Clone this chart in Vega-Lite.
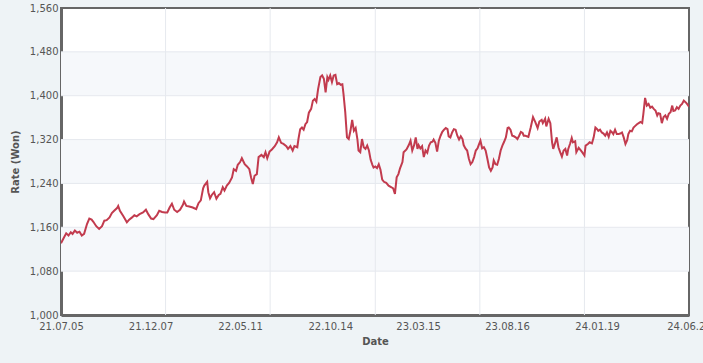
{
  "$schema": "https://vega.github.io/schema/vega-lite/v6.json",
  "autosize": {"type": "none"},
  "width": 628,
  "height": 307,
  "padding": {"left": 61, "top": 8, "right": 14, "bottom": 48},
  "background": "#eef3f6",
  "config": {
    "font": "DejaVu Sans",
    "view": {"fill": "#ffffff", "stroke": "#666666", "strokeWidth": 2}
  },
  "datasets": {
    "bands": [{"lo": 1080, "hi": 1160}, {"lo": 1240, "hi": 1320}, {"lo": 1400, "hi": 1480}],
    "hgrid": [{"v": 1080}, {"v": 1160}, {"v": 1240}, {"v": 1320}, {"v": 1400}, {"v": 1480}],
    "vgrid": [{"d": "2022-01-02"}, {"d": "2022-07-02"}, {"d": "2022-12-31"}, {"d": "2023-06-30"}, {"d": "2023-12-28"}],
    "rates": [
      {"date": "2021-07-05", "rate": 1131}, {"date": "2021-07-09", "rate": 1139}, {"date": "2021-07-14", "rate": 1149}, {"date": "2021-07-18", "rate": 1145},
      {"date": "2021-07-22", "rate": 1151}, {"date": "2021-07-25", "rate": 1148}, {"date": "2021-07-29", "rate": 1154}, {"date": "2021-08-02", "rate": 1150},
      {"date": "2021-08-06", "rate": 1152}, {"date": "2021-08-10", "rate": 1145}, {"date": "2021-08-14", "rate": 1148}, {"date": "2021-08-19", "rate": 1166},
      {"date": "2021-08-23", "rate": 1176}, {"date": "2021-08-27", "rate": 1174}, {"date": "2021-08-30", "rate": 1170}, {"date": "2021-09-04", "rate": 1162},
      {"date": "2021-09-09", "rate": 1157}, {"date": "2021-09-14", "rate": 1162}, {"date": "2021-09-18", "rate": 1172}, {"date": "2021-09-22", "rate": 1173},
      {"date": "2021-09-27", "rate": 1178}, {"date": "2021-10-01", "rate": 1186}, {"date": "2021-10-05", "rate": 1190}, {"date": "2021-10-10", "rate": 1195},
      {"date": "2021-10-12", "rate": 1199}, {"date": "2021-10-15", "rate": 1190}, {"date": "2021-10-21", "rate": 1180}, {"date": "2021-10-27", "rate": 1169},
      {"date": "2021-10-31", "rate": 1174}, {"date": "2021-11-05", "rate": 1178}, {"date": "2021-11-09", "rate": 1182}, {"date": "2021-11-13", "rate": 1180},
      {"date": "2021-11-18", "rate": 1184}, {"date": "2021-11-24", "rate": 1187}, {"date": "2021-11-29", "rate": 1192}, {"date": "2021-12-03", "rate": 1184},
      {"date": "2021-12-08", "rate": 1176}, {"date": "2021-12-12", "rate": 1175}, {"date": "2021-12-18", "rate": 1182}, {"date": "2021-12-22", "rate": 1190},
      {"date": "2021-12-27", "rate": 1188}, {"date": "2022-01-01", "rate": 1187}, {"date": "2022-01-05", "rate": 1187}, {"date": "2022-01-09", "rate": 1196},
      {"date": "2022-01-13", "rate": 1203}, {"date": "2022-01-17", "rate": 1192}, {"date": "2022-01-22", "rate": 1188}, {"date": "2022-01-27", "rate": 1192},
      {"date": "2022-02-01", "rate": 1201}, {"date": "2022-02-03", "rate": 1207}, {"date": "2022-02-07", "rate": 1199}, {"date": "2022-02-12", "rate": 1198},
      {"date": "2022-02-18", "rate": 1196}, {"date": "2022-02-24", "rate": 1193}, {"date": "2022-02-28", "rate": 1204}, {"date": "2022-03-04", "rate": 1209},
      {"date": "2022-03-08", "rate": 1231}, {"date": "2022-03-10", "rate": 1236}, {"date": "2022-03-15", "rate": 1243}, {"date": "2022-03-17", "rate": 1224},
      {"date": "2022-03-20", "rate": 1213}, {"date": "2022-03-23", "rate": 1219}, {"date": "2022-03-27", "rate": 1224}, {"date": "2022-03-31", "rate": 1212},
      {"date": "2022-04-04", "rate": 1219}, {"date": "2022-04-07", "rate": 1221}, {"date": "2022-04-11", "rate": 1233}, {"date": "2022-04-14", "rate": 1227},
      {"date": "2022-04-18", "rate": 1236}, {"date": "2022-04-22", "rate": 1241}, {"date": "2022-04-27", "rate": 1251}, {"date": "2022-04-30", "rate": 1266},
      {"date": "2022-05-04", "rate": 1263}, {"date": "2022-05-07", "rate": 1274}, {"date": "2022-05-11", "rate": 1279}, {"date": "2022-05-14", "rate": 1286},
      {"date": "2022-05-19", "rate": 1275}, {"date": "2022-05-23", "rate": 1271}, {"date": "2022-05-27", "rate": 1266}, {"date": "2022-05-30", "rate": 1251},
      {"date": "2022-06-02", "rate": 1239}, {"date": "2022-06-05", "rate": 1254}, {"date": "2022-06-09", "rate": 1257}, {"date": "2022-06-12", "rate": 1288},
      {"date": "2022-06-17", "rate": 1292}, {"date": "2022-06-21", "rate": 1288}, {"date": "2022-06-24", "rate": 1297}, {"date": "2022-06-27", "rate": 1286},
      {"date": "2022-07-01", "rate": 1298}, {"date": "2022-07-05", "rate": 1302}, {"date": "2022-07-10", "rate": 1308}, {"date": "2022-07-14", "rate": 1315},
      {"date": "2022-07-17", "rate": 1324}, {"date": "2022-07-21", "rate": 1314}, {"date": "2022-07-25", "rate": 1312}, {"date": "2022-07-30", "rate": 1308},
      {"date": "2022-08-02", "rate": 1303}, {"date": "2022-08-06", "rate": 1308}, {"date": "2022-08-10", "rate": 1300}, {"date": "2022-08-13", "rate": 1308},
      {"date": "2022-08-18", "rate": 1306}, {"date": "2022-08-20", "rate": 1321}, {"date": "2022-08-23", "rate": 1339}, {"date": "2022-08-26", "rate": 1342},
      {"date": "2022-08-29", "rate": 1338}, {"date": "2022-09-01", "rate": 1348}, {"date": "2022-09-04", "rate": 1352}, {"date": "2022-09-07", "rate": 1369},
      {"date": "2022-09-11", "rate": 1376}, {"date": "2022-09-14", "rate": 1391}, {"date": "2022-09-17", "rate": 1394}, {"date": "2022-09-20", "rate": 1389},
      {"date": "2022-09-23", "rate": 1412}, {"date": "2022-09-27", "rate": 1434}, {"date": "2022-09-30", "rate": 1437}, {"date": "2022-10-03", "rate": 1431},
      {"date": "2022-10-06", "rate": 1406}, {"date": "2022-10-09", "rate": 1434}, {"date": "2022-10-11", "rate": 1429}, {"date": "2022-10-14", "rate": 1437},
      {"date": "2022-10-17", "rate": 1425}, {"date": "2022-10-20", "rate": 1437}, {"date": "2022-10-23", "rate": 1438}, {"date": "2022-10-26", "rate": 1421},
      {"date": "2022-10-29", "rate": 1423}, {"date": "2022-11-01", "rate": 1420}, {"date": "2022-11-04", "rate": 1421}, {"date": "2022-11-06", "rate": 1403},
      {"date": "2022-11-09", "rate": 1370}, {"date": "2022-11-12", "rate": 1324}, {"date": "2022-11-15", "rate": 1321}, {"date": "2022-11-18", "rate": 1336},
      {"date": "2022-11-21", "rate": 1356}, {"date": "2022-11-24", "rate": 1336}, {"date": "2022-11-27", "rate": 1341}, {"date": "2022-11-30", "rate": 1321},
      {"date": "2022-12-02", "rate": 1300}, {"date": "2022-12-05", "rate": 1297}, {"date": "2022-12-08", "rate": 1321}, {"date": "2022-12-11", "rate": 1306},
      {"date": "2022-12-14", "rate": 1303}, {"date": "2022-12-17", "rate": 1309}, {"date": "2022-12-20", "rate": 1300}, {"date": "2022-12-23", "rate": 1283},
      {"date": "2022-12-26", "rate": 1274}, {"date": "2022-12-28", "rate": 1269}, {"date": "2022-12-31", "rate": 1271}, {"date": "2023-01-03", "rate": 1268},
      {"date": "2023-01-06", "rate": 1275}, {"date": "2023-01-09", "rate": 1265}, {"date": "2023-01-12", "rate": 1247}, {"date": "2023-01-15", "rate": 1243},
      {"date": "2023-01-19", "rate": 1241}, {"date": "2023-01-23", "rate": 1236}, {"date": "2023-01-28", "rate": 1233}, {"date": "2023-01-31", "rate": 1231},
      {"date": "2023-02-03", "rate": 1221}, {"date": "2023-02-06", "rate": 1251}, {"date": "2023-02-09", "rate": 1257}, {"date": "2023-02-12", "rate": 1268},
      {"date": "2023-02-16", "rate": 1279}, {"date": "2023-02-18", "rate": 1297}, {"date": "2023-02-23", "rate": 1302}, {"date": "2023-02-27", "rate": 1310},
      {"date": "2023-03-02", "rate": 1318}, {"date": "2023-03-05", "rate": 1300}, {"date": "2023-03-08", "rate": 1309}, {"date": "2023-03-11", "rate": 1324},
      {"date": "2023-03-14", "rate": 1303}, {"date": "2023-03-16", "rate": 1310}, {"date": "2023-03-19", "rate": 1304}, {"date": "2023-03-22", "rate": 1308},
      {"date": "2023-03-25", "rate": 1288}, {"date": "2023-03-28", "rate": 1300}, {"date": "2023-03-31", "rate": 1296}, {"date": "2023-04-03", "rate": 1309},
      {"date": "2023-04-06", "rate": 1315}, {"date": "2023-04-09", "rate": 1316}, {"date": "2023-04-11", "rate": 1320}, {"date": "2023-04-14", "rate": 1314},
      {"date": "2023-04-17", "rate": 1298}, {"date": "2023-04-20", "rate": 1318}, {"date": "2023-04-23", "rate": 1327}, {"date": "2023-04-26", "rate": 1334},
      {"date": "2023-04-29", "rate": 1338}, {"date": "2023-05-02", "rate": 1341}, {"date": "2023-05-05", "rate": 1339}, {"date": "2023-05-07", "rate": 1326},
      {"date": "2023-05-10", "rate": 1324}, {"date": "2023-05-13", "rate": 1333}, {"date": "2023-05-16", "rate": 1339}, {"date": "2023-05-19", "rate": 1338},
      {"date": "2023-05-22", "rate": 1327}, {"date": "2023-05-25", "rate": 1320}, {"date": "2023-05-28", "rate": 1326}, {"date": "2023-05-31", "rate": 1321},
      {"date": "2023-06-02", "rate": 1310}, {"date": "2023-06-05", "rate": 1304}, {"date": "2023-06-08", "rate": 1300}, {"date": "2023-06-11", "rate": 1285},
      {"date": "2023-06-14", "rate": 1275}, {"date": "2023-06-17", "rate": 1279}, {"date": "2023-06-20", "rate": 1288}, {"date": "2023-06-23", "rate": 1300},
      {"date": "2023-06-26", "rate": 1304}, {"date": "2023-06-28", "rate": 1310}, {"date": "2023-07-01", "rate": 1318}, {"date": "2023-07-04", "rate": 1304},
      {"date": "2023-07-07", "rate": 1306}, {"date": "2023-07-10", "rate": 1300}, {"date": "2023-07-13", "rate": 1285}, {"date": "2023-07-16", "rate": 1269},
      {"date": "2023-07-19", "rate": 1263}, {"date": "2023-07-22", "rate": 1269}, {"date": "2023-07-24", "rate": 1282}, {"date": "2023-07-27", "rate": 1275},
      {"date": "2023-07-30", "rate": 1274}, {"date": "2023-08-02", "rate": 1285}, {"date": "2023-08-05", "rate": 1300}, {"date": "2023-08-08", "rate": 1309},
      {"date": "2023-08-11", "rate": 1316}, {"date": "2023-08-14", "rate": 1324}, {"date": "2023-08-17", "rate": 1341}, {"date": "2023-08-19", "rate": 1342},
      {"date": "2023-08-22", "rate": 1338}, {"date": "2023-08-25", "rate": 1327}, {"date": "2023-08-28", "rate": 1326}, {"date": "2023-08-31", "rate": 1324},
      {"date": "2023-09-03", "rate": 1321}, {"date": "2023-09-06", "rate": 1327}, {"date": "2023-09-09", "rate": 1334}, {"date": "2023-09-12", "rate": 1332},
      {"date": "2023-09-14", "rate": 1327}, {"date": "2023-09-17", "rate": 1327}, {"date": "2023-09-22", "rate": 1325}, {"date": "2023-09-26", "rate": 1342},
      {"date": "2023-09-30", "rate": 1361}, {"date": "2023-10-04", "rate": 1352}, {"date": "2023-10-08", "rate": 1341}, {"date": "2023-10-11", "rate": 1353},
      {"date": "2023-10-15", "rate": 1356}, {"date": "2023-10-17", "rate": 1350}, {"date": "2023-10-21", "rate": 1358}, {"date": "2023-10-23", "rate": 1344},
      {"date": "2023-10-27", "rate": 1358}, {"date": "2023-10-30", "rate": 1350}, {"date": "2023-11-02", "rate": 1315}, {"date": "2023-11-04", "rate": 1303},
      {"date": "2023-11-07", "rate": 1313}, {"date": "2023-11-10", "rate": 1324}, {"date": "2023-11-13", "rate": 1306}, {"date": "2023-11-16", "rate": 1297},
      {"date": "2023-11-19", "rate": 1289}, {"date": "2023-11-22", "rate": 1300}, {"date": "2023-11-25", "rate": 1303}, {"date": "2023-11-28", "rate": 1291},
      {"date": "2023-11-30", "rate": 1303}, {"date": "2023-12-03", "rate": 1312}, {"date": "2023-12-06", "rate": 1323}, {"date": "2023-12-08", "rate": 1315},
      {"date": "2023-12-12", "rate": 1317}, {"date": "2023-12-14", "rate": 1297}, {"date": "2023-12-18", "rate": 1305}, {"date": "2023-12-21", "rate": 1301},
      {"date": "2023-12-24", "rate": 1297}, {"date": "2023-12-28", "rate": 1291}, {"date": "2023-12-30", "rate": 1309}, {"date": "2024-01-03", "rate": 1312},
      {"date": "2024-01-06", "rate": 1315}, {"date": "2024-01-10", "rate": 1313}, {"date": "2024-01-13", "rate": 1324}, {"date": "2024-01-16", "rate": 1342},
      {"date": "2024-01-19", "rate": 1339}, {"date": "2024-01-21", "rate": 1336}, {"date": "2024-01-24", "rate": 1338}, {"date": "2024-01-27", "rate": 1333},
      {"date": "2024-01-30", "rate": 1331}, {"date": "2024-02-02", "rate": 1327}, {"date": "2024-02-05", "rate": 1333}, {"date": "2024-02-08", "rate": 1325},
      {"date": "2024-02-11", "rate": 1336}, {"date": "2024-02-14", "rate": 1333}, {"date": "2024-02-16", "rate": 1330}, {"date": "2024-02-19", "rate": 1338},
      {"date": "2024-02-22", "rate": 1330}, {"date": "2024-02-25", "rate": 1330}, {"date": "2024-02-28", "rate": 1331}, {"date": "2024-03-02", "rate": 1333},
      {"date": "2024-03-05", "rate": 1324}, {"date": "2024-03-08", "rate": 1312}, {"date": "2024-03-11", "rate": 1319}, {"date": "2024-03-13", "rate": 1330},
      {"date": "2024-03-16", "rate": 1336}, {"date": "2024-03-19", "rate": 1335}, {"date": "2024-03-22", "rate": 1342}, {"date": "2024-03-25", "rate": 1345},
      {"date": "2024-03-28", "rate": 1348}, {"date": "2024-03-31", "rate": 1350}, {"date": "2024-04-03", "rate": 1352}, {"date": "2024-04-06", "rate": 1350},
      {"date": "2024-04-08", "rate": 1367}, {"date": "2024-04-11", "rate": 1396}, {"date": "2024-04-14", "rate": 1382}, {"date": "2024-04-17", "rate": 1385},
      {"date": "2024-04-20", "rate": 1378}, {"date": "2024-04-23", "rate": 1380}, {"date": "2024-04-26", "rate": 1376}, {"date": "2024-04-29", "rate": 1373},
      {"date": "2024-05-02", "rate": 1364}, {"date": "2024-05-04", "rate": 1368}, {"date": "2024-05-07", "rate": 1367}, {"date": "2024-05-10", "rate": 1350},
      {"date": "2024-05-13", "rate": 1361}, {"date": "2024-05-16", "rate": 1364}, {"date": "2024-05-19", "rate": 1358}, {"date": "2024-05-22", "rate": 1367},
      {"date": "2024-05-25", "rate": 1370}, {"date": "2024-05-28", "rate": 1382}, {"date": "2024-05-30", "rate": 1372}, {"date": "2024-06-02", "rate": 1373},
      {"date": "2024-06-05", "rate": 1379}, {"date": "2024-06-08", "rate": 1376}, {"date": "2024-06-11", "rate": 1382}, {"date": "2024-06-14", "rate": 1385},
      {"date": "2024-06-17", "rate": 1391}, {"date": "2024-06-20", "rate": 1388}, {"date": "2024-06-22", "rate": 1386}, {"date": "2024-06-26", "rate": 1380}
    ]
  },
  "layer": [
    {
      "data": {"name": "bands"},
      "mark": {"type": "rect", "fill": "#f6f8fb"},
      "encoding": {
        "y": {
          "field": "lo",
          "type": "quantitative",
          "title": "Rate (Won)",
          "scale": {"domain": [1000, 1560], "nice": false, "zero": false},
          "axis": {
            "title": "Rate (Won)",
            "values": [1000, 1080, 1160, 1240, 1320, 1400, 1480, 1560],
            "format": ",d",
            "grid": false,
            "ticks": false,
            "domain": true,
            "domainColor": "#666666",
            "domainWidth": 3,
            "labelFontSize": 10,
            "labelColor": "#555555",
            "labelPadding": 3,
            "labelOverlap": false,
            "labelFlush": false,
            "titleFontSize": 10,
            "titleFontWeight": "bold",
            "titleColor": "#555555",
            "titlePadding": 9
          }
        },
        "y2": {"field": "hi"}
      }
    },
    {
      "data": {"name": "hgrid"},
      "mark": {"type": "rule", "color": "#e6e9ee", "strokeWidth": 1},
      "encoding": {
        "y": {"field": "v", "type": "quantitative", "title": "Rate (Won)"}
      }
    },
    {
      "data": {"name": "vgrid"},
      "mark": {"type": "rule", "color": "#e6e9ee", "strokeWidth": 1},
      "encoding": {
        "x": {
          "field": "d",
          "type": "temporal",
          "title": "Date",
          "scale": {"type": "utc", "domain": [{"year": 2021, "month": 7, "date": 5, "utc": true}, {"year": 2024, "month": 6, "date": 26, "utc": true}], "nice": false},
          "axis": {
            "title": "Date",
            "values": [
              {"year": 2021, "month": 7, "date": 5, "utc": true},
              {"year": 2021, "month": 12, "date": 7, "utc": true},
              {"year": 2022, "month": 5, "date": 11, "utc": true},
              {"year": 2022, "month": 10, "date": 14, "utc": true},
              {"year": 2023, "month": 3, "date": 15, "utc": true},
              {"year": 2023, "month": 8, "date": 16, "utc": true},
              {"year": 2024, "month": 1, "date": 19, "utc": true},
              {"year": 2024, "month": 6, "date": 26, "utc": true}
            ],
            "format": "%y.%m.%d",
            "grid": false,
            "ticks": false,
            "domain": true,
            "domainColor": "#666666",
            "domainWidth": 3,
            "labelFontSize": 10,
            "labelColor": "#555555",
            "labelPadding": 6,
            "labelOverlap": false,
            "labelFlush": false,
            "titleFontSize": 10,
            "titleFontWeight": "bold",
            "titleColor": "#555555",
            "titlePadding": 5
          }
        }
      }
    },
    {
      "data": {"name": "rates"},
      "mark": {"type": "line", "color": "#c23b4e", "strokeWidth": 2, "clip": true},
      "encoding": {
        "x": {"field": "date", "type": "temporal", "title": "Date"},
        "y": {"field": "rate", "type": "quantitative", "title": "Rate (Won)"}
      }
    }
  ]
}
